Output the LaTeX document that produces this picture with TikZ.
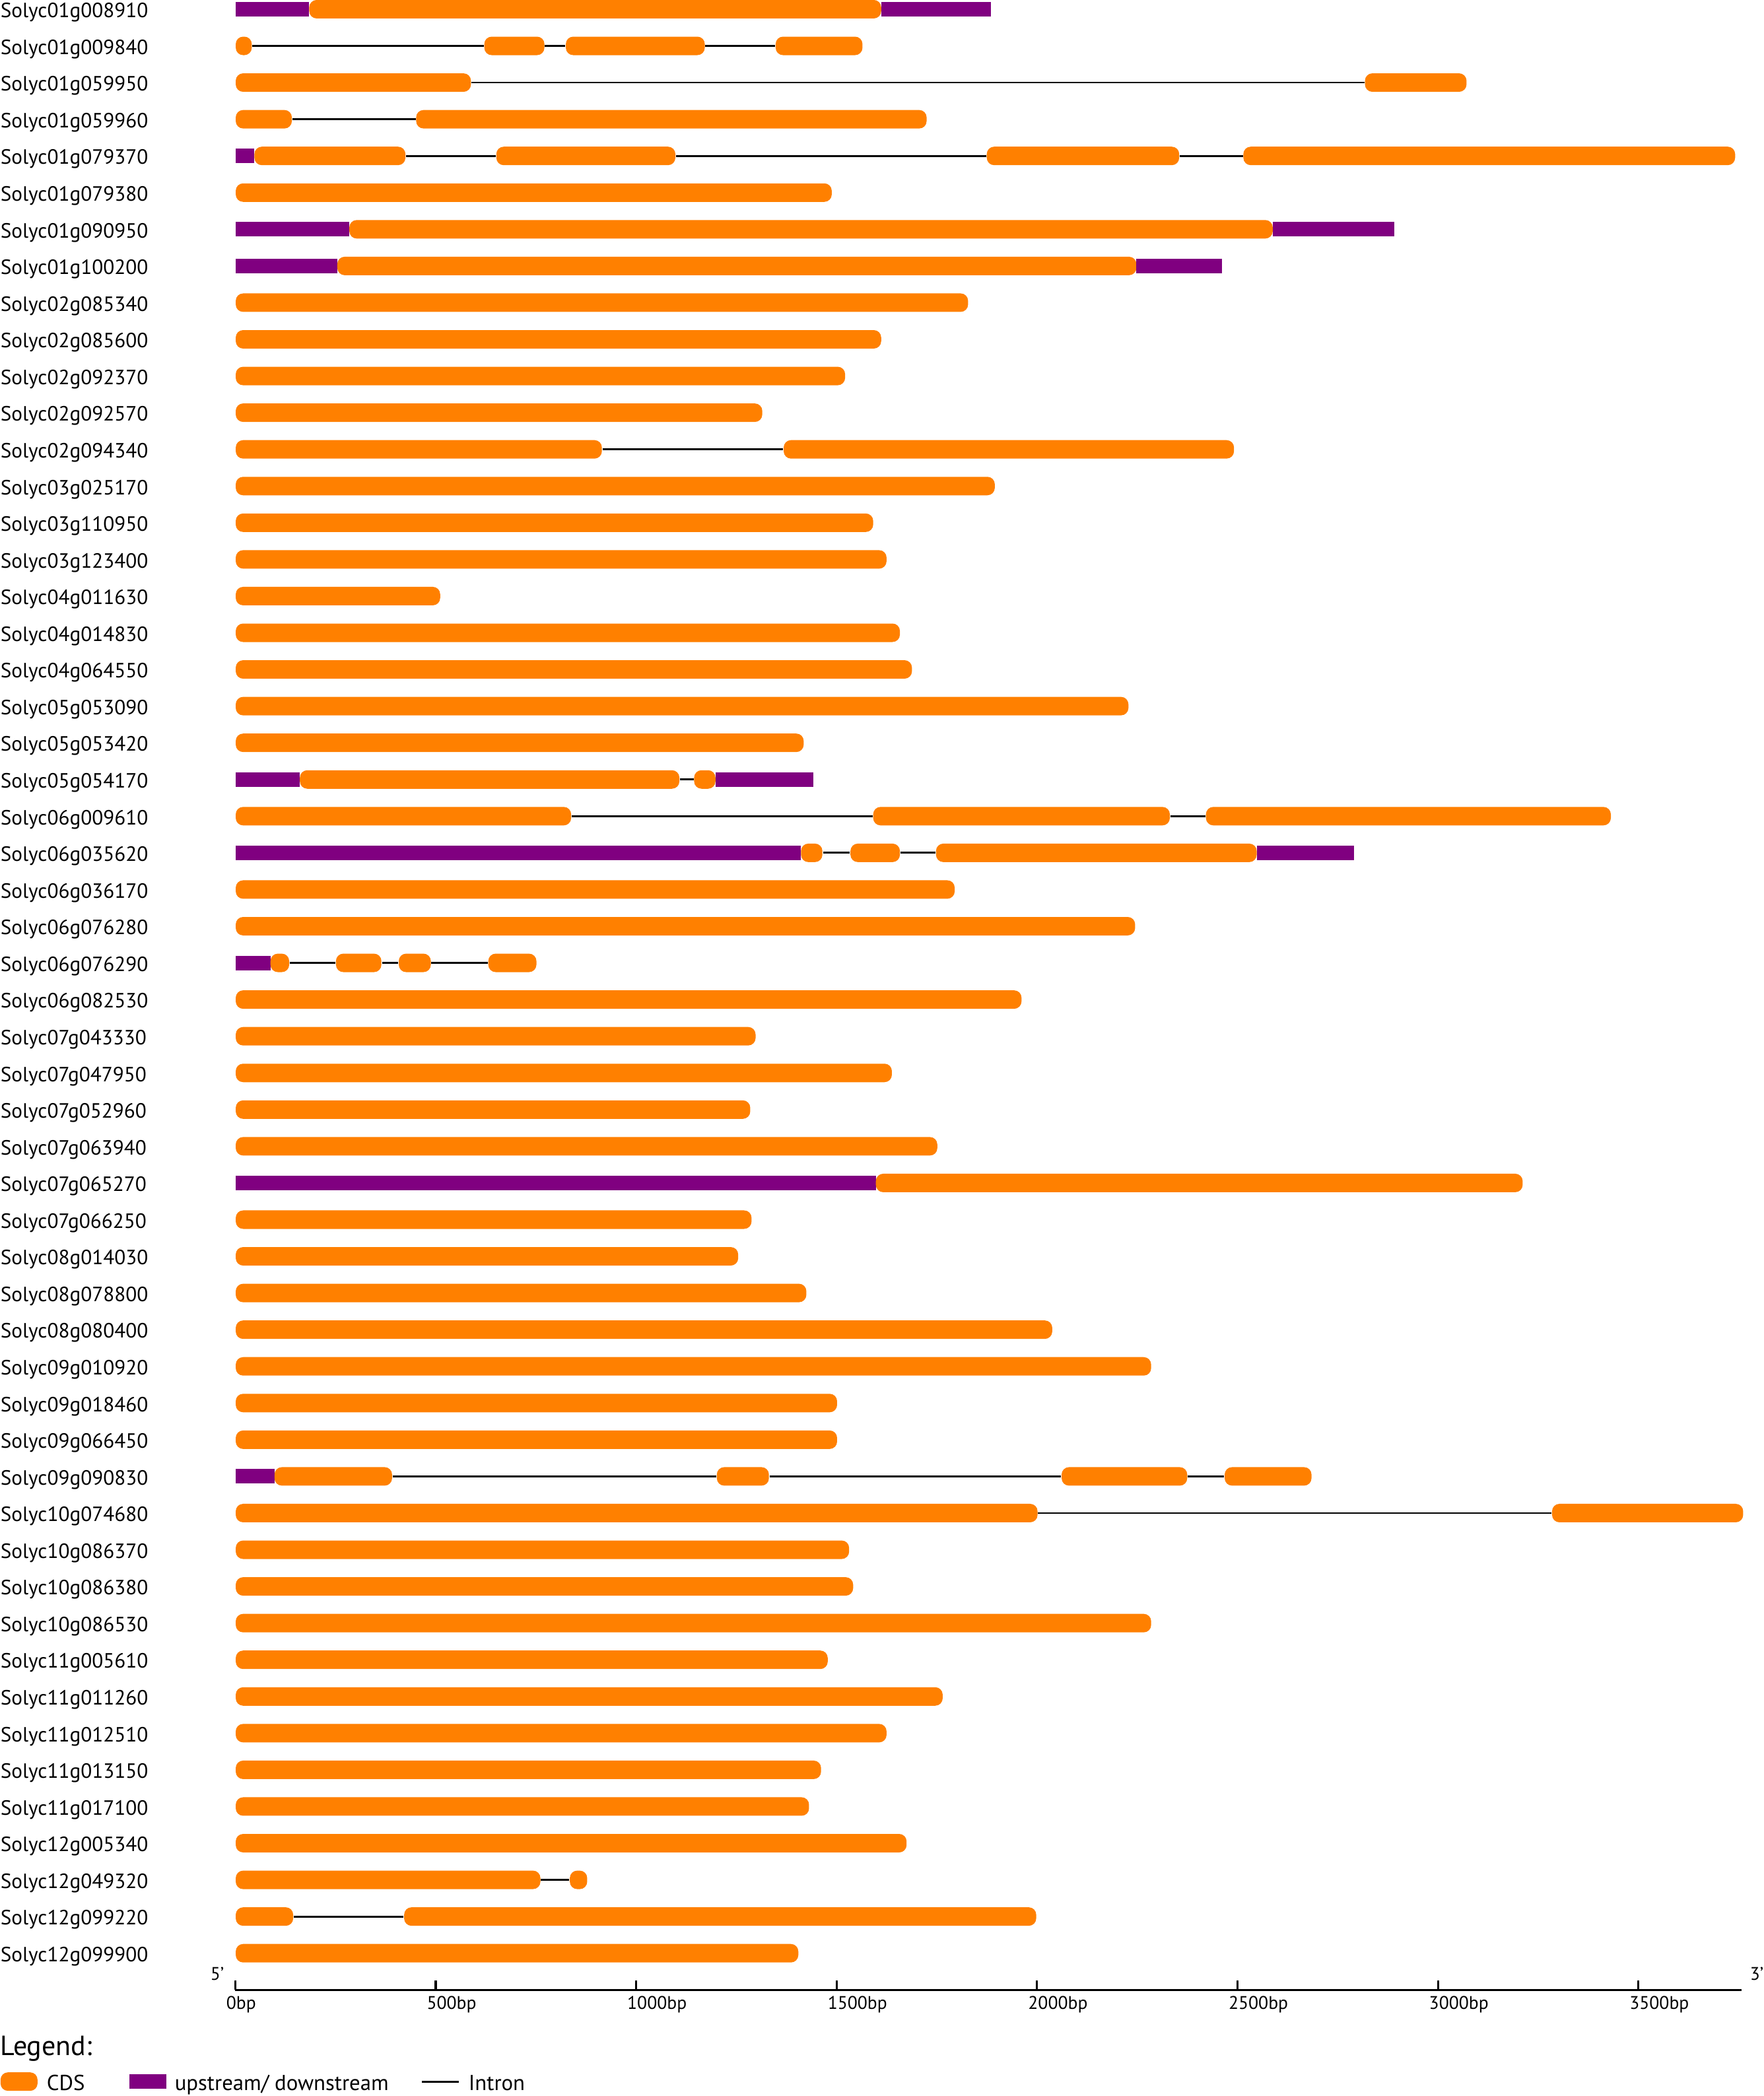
\documentclass[tikz,border=0pt]{standalone}
\usepackage{fontspec}
\setmainfont{PT Sans}
\definecolor{cdsc}{RGB}{255,128,0}
\definecolor{utrc}{RGB}{128,0,128}
\newcommand\cdsx[4]{\node[cdsbox,minimum width={(#4-#3)*0.50605pt}] (#1) at (#3,{6.9+27.448*#2}) {};}
\newcommand\utrx[4]{\node[utrbox,minimum width={(#4-#3)*0.50605pt}] (#1) at (#3,{6.9+27.448*#2}) {};}
\newcommand\intr[2]{\draw[intronline] (#1.east) -- (#2.west);}
\newcommand\glab[2]{\node[glabel] (lab#1) at (0,{13.2+27.448*#1}) {#2};}
\begin{document}
\begin{tikzpicture}[x=0.50605pt,y=-0.50605pt,
  cdsbox/.style={fill=cdsc,draw=none,rounded corners=2.8pt,inner sep=0pt,minimum height=7pt,anchor=west},
  utrbox/.style={fill=utrc,draw=none,inner sep=0pt,minimum height=5.5pt,anchor=west},
  intronline/.style={draw=black,line width=0.7pt},
  glabel/.style={font=\fontsize{7.8}{9}\selectfont,anchor=base west,inner sep=0pt},
  ticklab/.style={font=\fontsize{6.9}{8}\selectfont,anchor=base west,inner sep=0pt},
  axisline/.style={draw=black,line width=0.8pt},
  legtext/.style={font=\fontsize{8.2}{9}\selectfont,anchor=base west,inner sep=0pt}]
\useasboundingbox (0,0) rectangle (1320,1568.5);
% labels
\glab{0}{Solyc01g008910}
\glab{1}{Solyc01g009840}
\glab{2}{Solyc01g059950}
\glab{3}{Solyc01g059960}
\glab{4}{Solyc01g079370}
\glab{5}{Solyc01g079380}
\glab{6}{Solyc01g090950}
\glab{7}{Solyc01g100200}
\glab{8}{Solyc02g085340}
\glab{9}{Solyc02g085600}
\glab{10}{Solyc02g092370}
\glab{11}{Solyc02g092570}
\glab{12}{Solyc02g094340}
\glab{13}{Solyc03g025170}
\glab{14}{Solyc03g110950}
\glab{15}{Solyc03g123400}
\glab{16}{Solyc04g011630}
\glab{17}{Solyc04g014830}
\glab{18}{Solyc04g064550}
\glab{19}{Solyc05g053090}
\glab{20}{Solyc05g053420}
\glab{21}{Solyc05g054170}
\glab{22}{Solyc06g009610}
\glab{23}{Solyc06g035620}
\glab{24}{Solyc06g036170}
\glab{25}{Solyc06g076280}
\glab{26}{Solyc06g076290}
\glab{27}{Solyc06g082530}
\glab{28}{Solyc07g043330}
\glab{29}{Solyc07g047950}
\glab{30}{Solyc07g052960}
\glab{31}{Solyc07g063940}
\glab{32}{Solyc07g065270}
\glab{33}{Solyc07g066250}
\glab{34}{Solyc08g014030}
\glab{35}{Solyc08g078800}
\glab{36}{Solyc08g080400}
\glab{37}{Solyc09g010920}
\glab{38}{Solyc09g018460}
\glab{39}{Solyc09g066450}
\glab{40}{Solyc09g090830}
\glab{41}{Solyc10g074680}
\glab{42}{Solyc10g086370}
\glab{43}{Solyc10g086380}
\glab{44}{Solyc10g086530}
\glab{45}{Solyc11g005610}
\glab{46}{Solyc11g011260}
\glab{47}{Solyc11g012510}
\glab{48}{Solyc11g013150}
\glab{49}{Solyc11g017100}
\glab{50}{Solyc12g005340}
\glab{51}{Solyc12g049320}
\glab{52}{Solyc12g099220}
\glab{53}{Solyc12g099900}
% genes
\utrx{g0a}{0}{176}{231}\cdsx{g0b}{0}{231}{659}\utrx{g0c}{0}{659}{741}
\cdsx{g1a}{1}{176}{188}\cdsx{g1b}{1}{362}{407}\cdsx{g1c}{1}{423}{527}\cdsx{g1d}{1}{580}{645}
\intr{g1a}{g1b}\intr{g1b}{g1c}\intr{g1c}{g1d}
\cdsx{g2a}{2}{176}{352}\cdsx{g2b}{2}{1021}{1097}\intr{g2a}{g2b}
\cdsx{g3a}{3}{176}{218}\cdsx{g3b}{3}{311}{693}\intr{g3a}{g3b}
\utrx{g4u}{4}{176}{190}\cdsx{g4a}{4}{190}{303}\cdsx{g4b}{4}{371}{505}\cdsx{g4c}{4}{738}{882}\cdsx{g4d}{4}{930}{1298}
\intr{g4a}{g4b}\intr{g4b}{g4c}\intr{g4c}{g4d}
\cdsx{g5a}{5}{176}{622}
\utrx{g6a}{6}{176}{261}\cdsx{g6b}{6}{261}{952}\utrx{g6c}{6}{952}{1043}
\utrx{g7a}{7}{176}{252}\cdsx{g7b}{7}{252}{850}\utrx{g7c}{7}{850}{914}
\cdsx{g8a}{8}{176}{724}
\cdsx{g9a}{9}{176}{659}
\cdsx{g10a}{10}{176}{632}
\cdsx{g11a}{11}{176}{570}
\cdsx{g12a}{12}{176}{450}\cdsx{g12b}{12}{586}{923}\intr{g12a}{g12b}
\cdsx{g13a}{13}{176}{744}
\cdsx{g14a}{14}{176}{653}
\cdsx{g15a}{15}{176}{663}
\cdsx{g16a}{16}{176}{329}
\cdsx{g17a}{17}{176}{673}
\cdsx{g18a}{18}{176}{682}
\cdsx{g19a}{19}{176}{844}
\cdsx{g20a}{20}{176}{601}
\utrx{g21u}{21}{176}{224}\cdsx{g21a}{21}{224}{508}\cdsx{g21b}{21}{519}{535}\utrx{g21v}{21}{535}{608}\intr{g21a}{g21b}
\cdsx{g22a}{22}{176}{427}\cdsx{g22b}{22}{653}{875}\cdsx{g22c}{22}{902}{1205}\intr{g22a}{g22b}\intr{g22b}{g22c}
\utrx{g23u}{23}{176}{599}\cdsx{g23a}{23}{599}{615}\cdsx{g23b}{23}{636}{673}\cdsx{g23c}{23}{700}{940}\utrx{g23v}{23}{940}{1013}
\intr{g23a}{g23b}\intr{g23b}{g23c}
\cdsx{g24a}{24}{176}{714}
\cdsx{g25a}{25}{176}{849}
\utrx{g26u}{26}{176}{202}\cdsx{g26a}{26}{202}{216}\cdsx{g26b}{26}{251}{285}\cdsx{g26c}{26}{298}{322}\cdsx{g26d}{26}{365}{401}
\intr{g26a}{g26b}\intr{g26b}{g26c}\intr{g26c}{g26d}
\cdsx{g27a}{27}{176}{764}
\cdsx{g28a}{28}{176}{565}
\cdsx{g29a}{29}{176}{667}
\cdsx{g30a}{30}{176}{561}
\cdsx{g31a}{31}{176}{701}
\utrx{g32u}{32}{176}{655}\cdsx{g32a}{32}{655}{1139}
\cdsx{g33a}{33}{176}{562}
\cdsx{g34a}{34}{176}{552}
\cdsx{g35a}{35}{176}{603}
\cdsx{g36a}{36}{176}{787}
\cdsx{g37a}{37}{176}{861}
\cdsx{g38a}{38}{176}{626}
\cdsx{g39a}{39}{176}{626}
\utrx{g40u}{40}{176}{205}\cdsx{g40a}{40}{205}{293}\cdsx{g40b}{40}{536}{575}\cdsx{g40c}{40}{794}{888}\cdsx{g40d}{40}{916}{981}
\intr{g40a}{g40b}\intr{g40b}{g40c}\intr{g40c}{g40d}
\cdsx{g41a}{41}{176}{776}\cdsx{g41b}{41}{1161}{1304}\intr{g41a}{g41b}
\cdsx{g42a}{42}{176}{635}
\cdsx{g43a}{43}{176}{638}
\cdsx{g44a}{44}{176}{861}
\cdsx{g45a}{45}{176}{619}
\cdsx{g46a}{46}{176}{705}
\cdsx{g47a}{47}{176}{663}
\cdsx{g48a}{48}{176}{614}
\cdsx{g49a}{49}{176}{605}
\cdsx{g50a}{50}{176}{678}
\cdsx{g51a}{51}{176}{404}\cdsx{g51b}{51}{426}{439}\intr{g51a}{g51b}
\cdsx{g52a}{52}{176}{219}\cdsx{g52b}{52}{302}{775}\intr{g52a}{g52b}
\cdsx{g53a}{53}{176}{597}
% axis
\coordinate (ax0) at (176,1489);
\coordinate (ax1) at (1303,1489);
\draw[axisline] (ax0) -- (ax1);
\foreach \k in {0,...,7}{
  \pgfmathtruncatemacro\bp{500*\k}
  \draw[axisline] (176+150*\k,1489) -- ++(0,-7);
  \node[ticklab] (tick\k) at (176+150*\k-7,1503.5) {\bp bp};
}
\node[ticklab,anchor=base east] (five) at (168,1482) {5'};
\node[ticklab,anchor=base east] (three) at (1320,1482) {3'};
% legend
\node[font=\fontsize{10.5}{12}\selectfont,anchor=base west,inner sep=0pt] (legend) at (0,1538) {Legend:};
\node[cdsbox,minimum width={27.7*0.50605pt}] (legcds) at (0,1557.7) {};
\node[legtext] (legcdst) at (34.6,1564.5) {CDS};
\node[utrbox,minimum width={27.7*0.50605pt}] (legutr) at (96.3,1557.7) {};
\node[legtext] (legutrt) at (130.4,1564.5) {upstream/ downstream};
\coordinate (li0) at (315.7,1557.7);
\coordinate (li1) at (343.3,1557.7);
\draw[intronline] (li0) -- (li1);
\node[legtext] (legint) at (350.3,1564.5) {Intron};
\end{tikzpicture}
\end{document}
